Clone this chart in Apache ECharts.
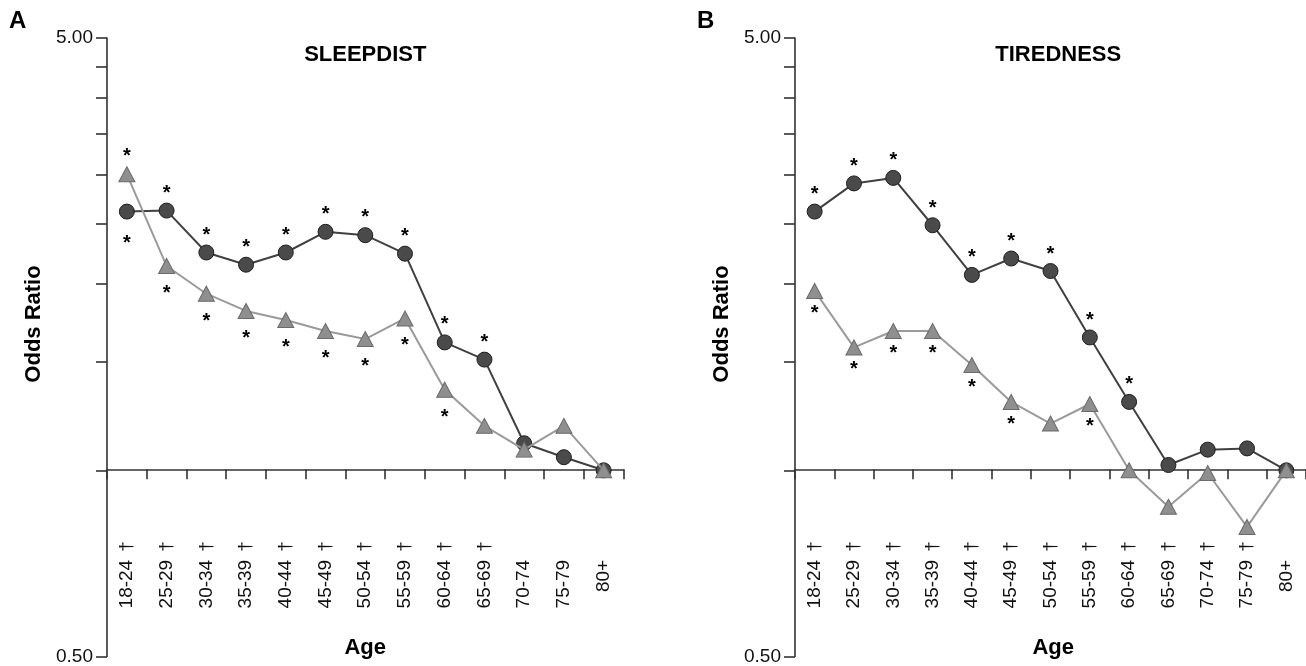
<!DOCTYPE html>
<html><head><meta charset="utf-8">
<script src="https://cdn.jsdelivr.net/npm/echarts@6/dist/echarts.min.js"></script>
<style>html,body{margin:0;padding:0;background:#fff}#c{width:1306px;height:666px}</style>
</head><body><div id="c"></div>
<script>
// ---- data ----
const ageGroups = ['18-24','25-29','30-34','35-39','40-44','45-49','50-54','55-59','60-64','65-69','70-74','75-79','80+'];
const daggerA = [1,1,1,1,1,1,1,1,1,1,0,0,0];
const daggerB = [1,1,1,1,1,1,1,1,1,1,1,1,0];
const sleepCircle   = [2.62,2.63,2.25,2.15,2.25,2.43,2.40,2.24,1.61,1.51,1.106,1.05,1.0];
const sleepTriangle = [3.01,2.14,1.93,1.81,1.75,1.68,1.63,1.76,1.35,1.18,1.08,1.18,1.0];
const tiredCircle   = [2.62,2.91,2.97,2.49,2.07,2.20,2.10,1.64,1.29,1.02,1.08,1.085,1.0];
const tiredTriangle = [1.95,1.58,1.68,1.68,1.48,1.29,1.19,1.28,1.0,0.873,0.99,0.81,1.0];
const sigSleepCircle   = ['down','up','up','up','up','up','up','up','up','up',null,null,null];
const sigSleepTriangle = ['up','down','down','down','down','down','down','down','down',null,null,null,null];
const sigTiredCircle   = ['up','up','up','up','up','up','up','up','up',null,null,null,null];
const sigTiredTriangle = ['down','down','down','down','down','down',null,'down',null,null,null,null,null];
const yTicks = [0.5,1,1.5,2,2.5,3,3.5,4,4.5,5];
const yLabelValues = [0.5,5];
const yMin = 0.5, yMax = 5, yCross = 1;
const panelTitles = ['SLEEPDIST','TIREDNESS'];
const panelLetters = ['A','B'];

// ---- style ----
const NARROW = "'Liberation Sans Narrow','Arial Narrow','Liberation Sans',Arial,sans-serif";
const SANS = "'Liberation Sans',Arial,sans-serif";
const gridTop = 38, gridH = 622, gridW = 516.5;
const grids = [{left:107, top:gridTop, width:gridW, height:gridH},{left:795, top:gridTop, width:gridW, height:gridH}];
// category axis sits at Odds Ratio = 1 on the log axis
const crossPx = gridTop + gridH * Math.log(yMax/yCross) / Math.log(yMax/yMin);
const xOffset = -((gridTop + gridH) - crossPx);

function mkData(vals, sig, upOff, downOff){
  return vals.map((v,i)=> sig[i] ? {value:v, label:{show:true, position:'inside', formatter:'*', offset:[0, sig[i]==='up' ? -upOff : downOff]}} : v);
}
const labelStyle = {color:'#000', fontSize:20, fontWeight:'bold', fontFamily:SANS};

function circleSeries(idx, vals, sig, up, down){
  return {type:'line', xAxisIndex:idx, yAxisIndex:idx, data:mkData(vals,sig,up,down),
    symbol:'circle', symbolSize:15, showAllSymbol:true,
    lineStyle:{color:'#404040', width:2},
    itemStyle:{color:'#4a4a4a', borderColor:'#1e1e1e', borderWidth:1},
    label:Object.assign({show:false}, labelStyle), z:3};
}
function triSeries(idx, vals, sig, up, down){
  return {type:'line', xAxisIndex:idx, yAxisIndex:idx, data:mkData(vals,sig,up,down),
    symbol:'triangle', symbolSize:[16,15], showAllSymbol:true,
    lineStyle:{color:'#9a9a9a', width:2},
    itemStyle:{color:'#8f8f8f', borderColor:'#6a6a6a', borderWidth:1},
    label:Object.assign({show:false}, labelStyle), z:4};
}
function xAxis(idx, dagger){
  const f = {fontSize:19, fontFamily:NARROW};
  return {type:'category', gridIndex:idx, data:ageGroups, boundaryGap:true, offset:xOffset,
    axisLine:{show:true, lineStyle:{color:'#333', width:1.6}},
    axisTick:{show:true, interval:0, length:10, lineStyle:{color:'#333', width:1.6}},
    axisLabel:{interval:0, rotate:90, margin:72, color:'#111', fontSize:19, fontFamily:NARROW,
      formatter:(v,i)=> '{n|' + v + '}{' + (dagger[i] ? 'd' : 'h') + '|\u2020}',
      rich:{
        n:Object.assign({color:'#111'}, f),
        d:Object.assign({color:'#111', padding:[0,0,0,8]}, f),
        h:Object.assign({color:'rgba(0,0,0,0)', padding:[0,0,0,8]}, f)
      }},
    splitLine:{show:false}};
}
function yAxis(idx){
  return {type:'log', logBase:10, gridIndex:idx, min:yMin, max:yMax,
    axisLine:{show:true, lineStyle:{color:'#333', width:1.6}},
    axisTick:{show:true, length:11, customValues:yTicks, lineStyle:{color:'#333', width:1.6}},
    axisLabel:{show:true, customValues:yLabelValues, formatter:v=>Number(v).toFixed(2), color:'#111', fontSize:19, fontFamily:NARROW, margin:14},
    minorTick:{show:false}, splitLine:{show:false}};
}
const graphics = [];
[0,1].forEach(i=>{
  const g = grids[i];
  const cx = g.left + gridW/2;
  graphics.push({type:'text', left:i===0?9:697, top:9, style:{text:panelLetters[i], font:"bold 24px "+SANS, fill:'#000'}});
  graphics.push({type:'text', x:cx + (i===1?5:0), y:55, style:{text:panelTitles[i], font:"bold 22px "+NARROW, fill:'#000', textAlign:'center', textVerticalAlign:'middle'}});
  graphics.push({type:'text', x:g.left-73, y:324, rotation:Math.PI/2, style:{text:'Odds Ratio', font:"bold 22px "+SANS, fill:'#000', textAlign:'center', textVerticalAlign:'middle'}});
  graphics.push({type:'text', x:cx, y:648, style:{text:'Age', font:"bold 22px "+NARROW, fill:'#000', textAlign:'center', textVerticalAlign:'middle'}});
});

const chart = echarts.init(document.getElementById('c'), null, {renderer:'canvas'});
chart.setOption({
  animation:false, backgroundColor:'#fff',
  grid:grids,
  xAxis:[xAxis(0,daggerA), xAxis(1,daggerB)],
  yAxis:[yAxis(0), yAxis(1)],
  series:[
    circleSeries(0, sleepCircle, sigSleepCircle, 17.5, 31.5),
    triSeries(0, sleepTriangle, sigSleepTriangle, 18, 27.5),
    circleSeries(1, tiredCircle, sigTiredCircle, 17, 31),
    triSeries(1, tiredTriangle, sigTiredTriangle, 18, 22.5)
  ],
  graphic:graphics
});
</script></body></html>
